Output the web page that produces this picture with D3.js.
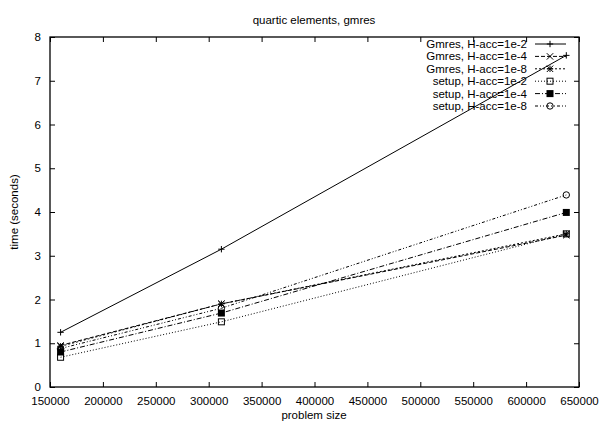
<!DOCTYPE html>
<html>
<head>
<meta charset="utf-8">
<script src="https://cdn.jsdelivr.net/npm/d3@7"></script>
<style>
body { margin: 0; background: #fff; }
text { font-family: "Liberation Sans", Arial, sans-serif; fill: #000; }
</style>
</head>
<body>
<svg id="svg1" width="600" height="421"></svg>
<script>
// data
var sizes = [160000, 312000, 638000];
var gmres_1e2 = [1.25, 3.15, 7.58];
var gmres_1e4 = [0.95, 1.9, 3.47];
var gmres_1e8 = [0.93, 1.9, 3.5];
var setup_1e2 = [0.68, 1.49, 3.5];
var setup_1e4 = [0.8, 1.69, 3.99];
var setup_1e8 = [0.88, 1.8, 4.39];
var xTicks = [150000, 200000, 250000, 300000, 350000, 400000, 450000, 500000, 550000, 600000, 650000];
var yTicks = [0, 1, 2, 3, 4, 5, 6, 7, 8];

var series = [
  {name: "Gmres, H-acc=1e-2", vals: gmres_1e2, dash: null, mark: "plus"},
  {name: "Gmres, H-acc=1e-4", vals: gmres_1e4, dash: "4,2", mark: "cross"},
  {name: "Gmres, H-acc=1e-8", vals: gmres_1e8, dash: "2,2", mark: "star"},
  {name: "setup, H-acc=1e-2", vals: setup_1e2, dash: "1,2", mark: "box"},
  {name: "setup, H-acc=1e-4", vals: setup_1e4, dash: "5,2,1,2", mark: "fbox"},
  {name: "setup, H-acc=1e-8", vals: setup_1e8, dash: "3,2,1,2,1,2", mark: "circle"}
];

const svg = d3.select("#svg1"),
      margin = {top: 37, right: 21, bottom: 34, left: 50},
      width = +svg.attr("width") - margin.left - margin.right,
      height = +svg.attr("height") - margin.top - margin.bottom,
      x = d3.scaleLinear().domain([150000, 650000]).range([0, width]),
      y = d3.scaleLinear().domain([0, 8]).range([height, 0]),
      g = svg.append("g").attr("transform", `translate(${margin.left},${margin.top})`);

// axes, ticks pointing inwards, mirrored on top/right
g.append("g").attr("transform", `translate(0,${height})`)
  .call(d3.axisBottom(x).tickValues(xTicks).tickSize(-5).tickPadding(10).tickFormat(d3.format("d")));
g.append("g").call(d3.axisTop(x).tickValues(xTicks).tickSize(-5).tickFormat(""));
g.append("g").call(d3.axisLeft(y).tickValues(yTicks).tickSize(-5).tickPadding(9));
g.append("g").attr("transform", `translate(${width},0)`)
  .call(d3.axisRight(y).tickValues(yTicks).tickSize(-5).tickFormat(""));
g.selectAll(".domain").remove();
g.selectAll(".tick line").attr("stroke", "#000");
g.selectAll(".tick text").style("font-size", "11.5px").attr("fill", "#000");
g.append("rect").attr("width", width).attr("height", height)
  .attr("fill", "none").attr("stroke", "#000").attr("stroke-width", 1.3);

function marker(sel, type) {
  var s = 3.2;
  if (type == "plus") {
    sel.append("path").attr("d", `M${-s},0H${s}M0,${-s}V${s}`).attr("stroke", "#000").attr("fill", "none");
  } else if (type == "cross") {
    sel.append("path").attr("d", `M${-s},${-s}L${s},${s}M${-s},${s}L${s},${-s}`).attr("stroke", "#000").attr("fill", "none");
  } else if (type == "star") {
    sel.append("path").attr("d", `M${-s},0H${s}M0,${-s}V${s}M${-s},${-s}L${s},${s}M${-s},${s}L${s},${-s}`).attr("stroke", "#000").attr("fill", "none");
  } else if (type == "box") {
    sel.append("rect").attr("x", -3).attr("y", -3).attr("width", 6).attr("height", 6).attr("stroke", "#000").attr("fill", "none");
  } else if (type == "fbox") {
    sel.append("rect").attr("x", -3.5).attr("y", -3.5).attr("width", 7).attr("height", 7).attr("fill", "#000");
  } else {
    sel.append("circle").attr("r", 3.2).attr("stroke", "#000").attr("fill", "none");
  }
}

var line = d3.line().x(d => x(d[0])).y(d => y(d[1]));

series.forEach(function(s) {
  var pts = sizes.map((v, i) => [v, s.vals[i]]);
  g.append("path").datum(pts).attr("d", line)
    .attr("fill", "none").attr("stroke", "#000").attr("stroke-width", 1)
    .attr("stroke-dasharray", s.dash);
  pts.forEach(function(p) {
    marker(g.append("g").attr("transform", `translate(${x(p[0])},${y(p[1])})`), s.mark);
  });
});

// legend
series.forEach(function(s, i) {
  var ly = 44 + i * 12.4;
  svg.append("text").attr("x", 527).attr("y", ly).attr("dy", "0.35em")
    .attr("text-anchor", "end").style("font-size", "11.5px").text(s.name);
  svg.append("line").attr("x1", 535).attr("x2", 566).attr("y1", ly).attr("y2", ly)
    .attr("stroke", "#000").attr("stroke-dasharray", s.dash);
  marker(svg.append("g").attr("transform", `translate(550,${ly})`), s.mark);
});

// titles
svg.append("text").attr("x", 314).attr("y", 20).attr("dy", "0.35em")
  .attr("text-anchor", "middle").style("font-size", "11.5px").text("quartic elements, gmres");
svg.append("text").attr("x", 314).attr("y", 415).attr("dy", "0.35em")
  .attr("text-anchor", "middle").style("font-size", "11.5px").text("problem size");
svg.append("text").attr("transform", "rotate(-90)").attr("x", -212).attr("y", 14)
  .attr("dy", "0.35em").attr("text-anchor", "middle").style("font-size", "11.5px").text("time (seconds)");
</script>
</body>
</html>
